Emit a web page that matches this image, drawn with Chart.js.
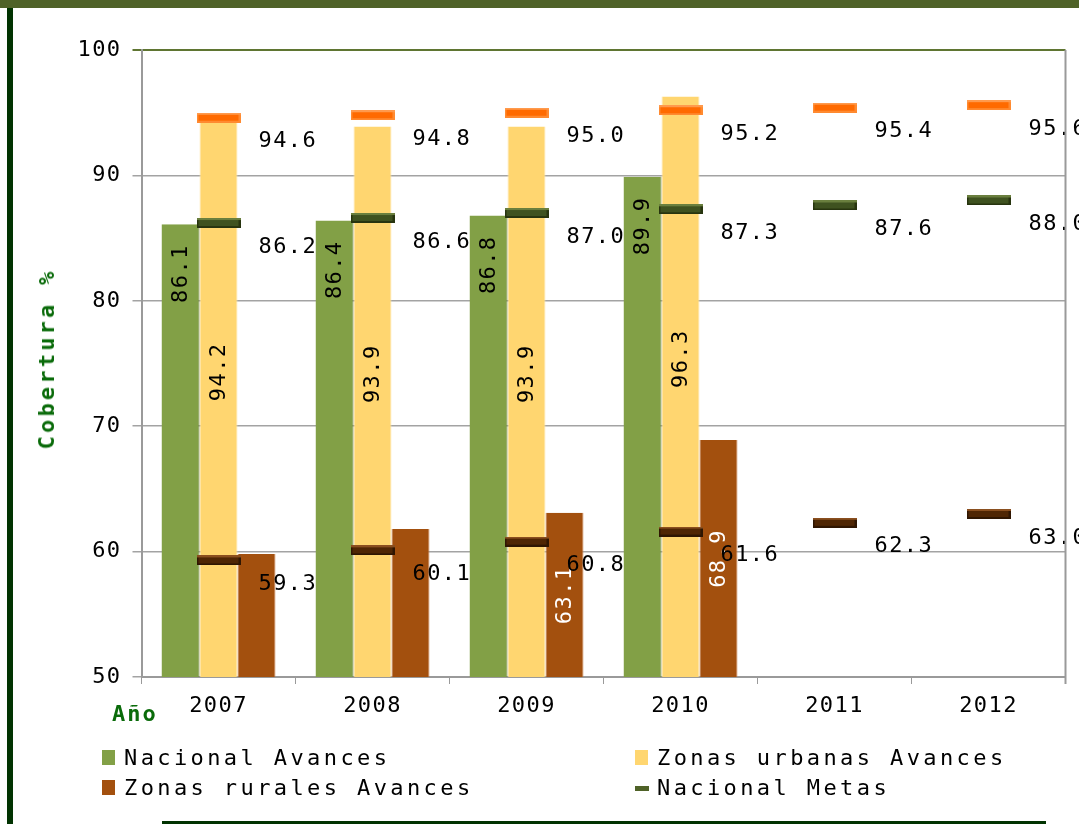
<!DOCTYPE html>
<html><head><meta charset="utf-8">
<script src="https://cdn.jsdelivr.net/npm/chart.js@4.4.0/dist/chart.umd.min.js"></script>
<style>
html,body{margin:0;padding:0;background:#fff;}
#wrap{position:relative;width:1079px;height:824px;overflow:hidden;background:#fff;}
#topband{position:absolute;left:0;top:0;width:1079px;height:8px;background:#4f6228;}
#leftband{position:absolute;left:7px;top:8px;width:6px;height:816px;background:#013301;}
#bottomline{position:absolute;left:162px;top:821px;width:884px;height:3px;background:#013301;}
#c{position:absolute;left:0;top:0;}
#xtitle{position:absolute;left:112px;top:702px;font:bold 22px 'DejaVu Sans Mono';color:#0a6b0a;letter-spacing:2px;line-height:24px;}
#ytitle{position:absolute;left:47px;top:359px;font:bold 22px 'DejaVu Sans Mono';color:#0a6b0a;letter-spacing:3.2px;line-height:24px;white-space:nowrap;transform:translate(-50%,-50%) rotate(-90deg);}
.leg{position:absolute;font:22px 'DejaVu Sans Mono';letter-spacing:3.4px;color:#000;white-space:nowrap;line-height:24px;}
.sw{position:absolute;}
</style>
</head>
<body>
<div id="wrap">
  <canvas id="c" width="1079" height="740"></canvas>
  <div id="topband"></div>
  <div id="leftband"></div>
  <div id="bottomline"></div>
  <div id="xtitle">Año</div>
  <div id="ytitle">Cobertura %</div>
  <div id="legend"></div>
</div>
<script>
const years = ['2007', '2008', '2009', '2010', '2011', '2012'];
const nacionalAvances = [86.1, 86.4, 86.8, 89.9, null, null];
const urbanasAvances = [94.2, 93.9, 93.9, 96.3, null, null];
const ruralesAvances = [59.8, 61.8, 63.1, 68.9, null, null];
const nacionalMetas = [86.2, 86.6, 87.0, 87.3, 87.6, 88.0];
const urbanasMetas = [94.6, 94.8, 95.0, 95.2, 95.4, 95.6];
const ruralesMetas = [59.3, 60.1, 60.8, 61.6, 62.3, 63.0];
const ruralesLabelShown = [false, false, true, true, false, false];
const yMin = 50, yMax = 100, yStep = 10;

const FONT = "'DejaVu Sans Mono'";

function makeDash(fill, light, dark) {
  const c = document.createElement('canvas');
  c.width = 44; c.height = 10;
  const g = c.getContext('2d');
  g.fillStyle = dark; g.fillRect(0, 0, 44, 10);
  g.fillStyle = light; g.fillRect(0, 0, 44, 2);
  g.fillStyle = fill; g.fillRect(2, 2, 40, 6);
  return c;
}
const dashNac = makeDash('#3f5220', '#6a7f3e', '#27340f');
const dashUrb = makeDash('#ff6a00', '#ff9a4d', '#ff8a30');
const dashRur = makeDash('#4f2604', '#8a4f1f', '#2f1602');

const spacingPlugin = {
  id: 'spacing',
  beforeUpdate(c) { c.ctx.letterSpacing = '1.4px'; },
  beforeDraw(c) { c.ctx.letterSpacing = '1.4px'; }
};

const valuePlugin = {
  id: 'values',
  afterDatasetsDraw(chart) {
    const ctx = chart.ctx;
    const bottom = chart.scales.y.getPixelForValue(yMin);
    ctx.save();
    ctx.font = "22px " + FONT;
    ctx.letterSpacing = '1.4px';
    // bar labels (rotated)
    [0, 1, 2].forEach(di => {
      const meta = chart.getDatasetMeta(di);
      const data = chart.data.datasets[di].data;
      meta.data.forEach((bar, i) => {
        const v = data[i];
        if (v === null || v === undefined) return;
        if (di === 2 && !ruralesLabelShown[i]) return;
        let y, align;
        if (di === 0) { y = bar.y + 20; align = 'right'; }
        else if (di === 1) { y = (bar.y + bottom) / 2 - 28; align = 'center'; }
        else { y = (bar.y + bottom) / 2; align = 'center'; }
        ctx.save();
        ctx.translate(bar.x + 1, y);
        ctx.rotate(-Math.PI / 2);
        ctx.textAlign = align;
        ctx.textBaseline = 'middle';
        ctx.fillStyle = di === 2 ? '#ffffff' : '#000000';
        ctx.fillText(v.toFixed(1), 0, 0);
        ctx.restore();
      });
    });
    // target labels
    [3, 4, 5].forEach(di => {
      const meta = chart.getDatasetMeta(di);
      const data = chart.data.datasets[di].data;
      meta.data.forEach((pt, i) => {
        const v = data[i];
        if (v === null || v === undefined) return;
        ctx.textAlign = 'left';
        ctx.textBaseline = 'middle';
        ctx.fillStyle = '#000';
        ctx.fillText(v.toFixed(1), pt.x + 40, pt.y + 24);
      });
    });
    ctx.restore();
  }
};

const barCommon = { type: 'bar', categoryPercentage: 0.74, barPercentage: 1.0, order: 2 };
const lineCommon = { type: 'line', showLine: false, order: 1, pointHoverRadius: 0 };

const chart = new Chart(document.getElementById('c'), {
  data: {
    labels: years,
    datasets: [
      Object.assign({ label: 'Nacional Avances', data: nacionalAvances, backgroundColor: '#82a046', borderColor: '#5f7a2c', borderWidth: { right: 1 }, borderSkipped: false }, barCommon),
      Object.assign({ label: 'Zonas urbanas Avances', data: urbanasAvances, backgroundColor: '#ffd670', borderColor: '#ffe6a8', borderWidth: { left: 1, right: 1 }, borderSkipped: false }, barCommon),
      Object.assign({ label: 'Zonas rurales Avances', data: ruralesAvances, backgroundColor: '#a3500e', borderColor: '#c57a45', borderWidth: { left: 1, right: 1 }, borderSkipped: false }, barCommon),
      Object.assign({ label: 'Nacional Metas', data: nacionalMetas, pointStyle: dashNac, borderColor: '#4f6228', backgroundColor: '#4f6228' }, lineCommon),
      Object.assign({ label: 'Zonas urbanas Metas', data: urbanasMetas, pointStyle: dashUrb, borderColor: '#ff6a00', backgroundColor: '#ff6a00' }, lineCommon),
      Object.assign({ label: 'Zonas rurales Metas', data: ruralesMetas, pointStyle: dashRur, borderColor: '#4f2604', backgroundColor: '#4f2604' }, lineCommon)
    ]
  },
  options: {
    responsive: false,
    animation: false,
    devicePixelRatio: 1,
    events: [],
    layout: { padding: { left: 20, right: 13.5, top: 50, bottom: 0 } },
    plugins: { legend: { display: false }, tooltip: { enabled: false }, title: { display: false } },
    scales: {
      x: {
        grid: { display: true, drawOnChartArea: false, drawTicks: true, tickLength: 7, color: '#9a9a9a', offset: true },
        border: { display: true, color: '#9a9a9a', width: 2 },
        ticks: { font: { family: FONT, size: 22 }, color: '#000', padding: 9, maxRotation: 0 },
        afterFit(s) { s.height = 63; }
      },
      y: {
        min: yMin, max: yMax,
        ticks: { stepSize: yStep, font: { family: FONT, size: 22 }, color: '#000', padding: 11 },
        grid: {
          color: (c) => (c.tick && c.tick.value === yMax) ? '#5f7532' : '#a3a3a3',
          lineWidth: (c) => (c.tick && c.tick.value === yMax) ? 2 : 1.5,
          tickLength: 9, drawTicks: true
        },
        border: { display: true, color: '#9a9a9a', width: 2 },
        title: { display: false },
        afterFit(s) { s.width = 121.5; }
      }
    }
  },
  plugins: [spacingPlugin, valuePlugin]
});

// right border of plot area
(function () {
  const a = chart.chartArea, ctx = chart.ctx;
  ctx.save();
  ctx.strokeStyle = '#9a9a9a'; ctx.lineWidth = 2;
  ctx.beginPath(); ctx.moveTo(a.right, a.top); ctx.lineTo(a.right, a.bottom + 7); ctx.stroke();
  ctx.restore();
})();

// HTML legend (only the first four entries fit inside the frame, as in the original)
const legendSpecs = [
  { ds: 0, col: 0, row: 0, kind: 'box' },
  { ds: 1, col: 1, row: 0, kind: 'box' },
  { ds: 2, col: 0, row: 1, kind: 'box' },
  { ds: 3, col: 1, row: 1, kind: 'line' }
];
const legendEl = document.getElementById('legend');
const colX = [102, 635], rowY = [746, 776];
legendSpecs.forEach(s => {
  const d = chart.data.datasets[s.ds];
  const sw = document.createElement('div');
  sw.className = 'sw';
  if (s.kind === 'box') {
    sw.style.cssText = `left:${colX[s.col]}px;top:${rowY[s.row] + 4}px;width:13px;height:15px;background:${d.backgroundColor};`;
  } else {
    sw.style.cssText = `left:${colX[s.col]}px;top:${rowY[s.row] + 10}px;width:14px;height:5px;background:${d.borderColor};`;
  }
  legendEl.appendChild(sw);
  const t = document.createElement('div');
  t.className = 'leg';
  t.style.left = (colX[s.col] + 22) + 'px';
  t.style.top = rowY[s.row] + 'px';
  t.textContent = d.label;
  legendEl.appendChild(t);
});
</script>
</body>
</html>
